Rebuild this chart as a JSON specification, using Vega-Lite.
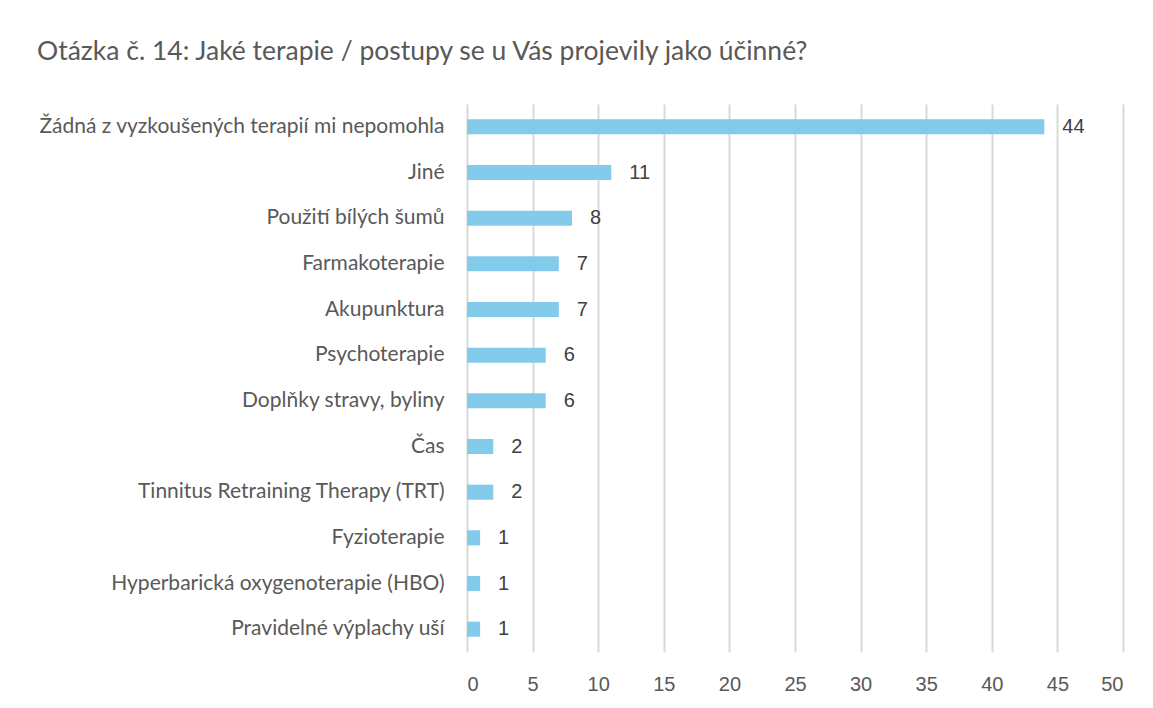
{
  "$schema": "https://vega.github.io/schema/vega-lite/v6.json",
  "width": 656,
  "height": 548,
  "autosize": {"type": "none"},
  "padding": {"left": 467, "top": 104, "right": 30, "bottom": 56},
  "background": "white",
  "title": {
    "text": "Otázka č. 14: Jaké terapie / postupy se u Vás projevily jako účinné?",
    "anchor": "start",
    "frame": "group",
    "dx": -430,
    "dy": 21,
    "offset": 39,
    "baseline": "alphabetic",
    "font": "Lato",
    "fontSize": 26.5,
    "fontWeight": "normal",
    "color": "#595959"
  },
  "data": {
    "values": [
      {"terapie": "Žádná z vyzkoušených terapií mi nepomohla", "pocet": 44},
      {"terapie": "Jiné", "pocet": 11},
      {"terapie": "Použití bílých šumů", "pocet": 8},
      {"terapie": "Farmakoterapie", "pocet": 7},
      {"terapie": "Akupunktura", "pocet": 7},
      {"terapie": "Psychoterapie", "pocet": 6},
      {"terapie": "Doplňky stravy, byliny", "pocet": 6},
      {"terapie": "Čas", "pocet": 2},
      {"terapie": "Tinnitus Retraining Therapy (TRT)", "pocet": 2},
      {"terapie": "Fyzioterapie", "pocet": 1},
      {"terapie": "Hyperbarická oxygenoterapie (HBO)", "pocet": 1},
      {"terapie": "Pravidelné výplachy uší", "pocet": 1}
    ]
  },
  "encoding": {
    "y": {
      "field": "terapie",
      "type": "nominal",
      "sort": null,
      "scale": {"paddingInner": 0.67, "paddingOuter": 0.335},
      "axis": {
        "title": null,
        "ticks": false,
        "domain": false,
        "labelPadding": 23,
        "labelFont": "Lato",
        "labelFontSize": 21,
        "labelColor": "#595959",
        "labelLimit": 500
      }
    },
    "x": {
      "field": "pocet",
      "type": "quantitative",
      "scale": {"domain": [0, 50], "nice": false},
      "axis": {
        "title": null,
        "values": [0, 5, 10, 15, 20, 25, 30, 35, 40, 45, 50],
        "ticks": false,
        "domain": false,
        "grid": true,
        "gridColor": "#d9d9d9",
        "gridWidth": 2,
        "labelPadding": 22,
        "labelFont": "Liberation Sans",
        "labelFontSize": 20,
        "labelColor": "#595959"
      }
    }
  },
  "layer": [
    {"mark": {"type": "bar", "color": "#83cbeb"}},
    {
      "mark": {
        "type": "text",
        "align": "left",
        "baseline": "middle",
        "dx": 18,
        "font": "Liberation Sans",
        "fontSize": 20,
        "color": "#404040"
      },
      "encoding": {"text": {"field": "pocet", "type": "quantitative"}}
    }
  ],
  "config": {"view": {"stroke": null}}
}
